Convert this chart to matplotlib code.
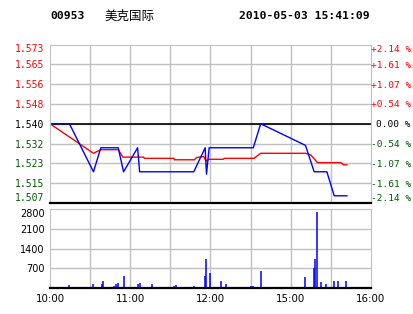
import numpy as np
import matplotlib
matplotlib.use('Agg')
import matplotlib.pyplot as plt

# trading minutes from 10:00 (lunch break squeezed out: 12:30 == 14:30)
price_t = [0, 14.5, 32.5, 38, 51, 55, 65.5, 67, 107.5, 116, 117, 119, 152, 157.5, 191, 197.5, 207, 212.5, 222]
price_v = [1.540, 1.540, 1.520, 1.530, 1.530, 1.520, 1.530, 1.520, 1.520, 1.530, 1.519, 1.530,
           1.530, 1.540, 1.531, 1.520, 1.520, 1.510, 1.510]

avg_t = [0, 32.5, 38, 51, 54.5, 70, 70.5, 92.5, 93, 108, 109.5, 115, 116.5, 119, 129.5, 130.5,
         152.5, 157.5, 191, 195, 200, 217.5, 219.5, 222]
avg_v = [1.5400, 1.5277, 1.5292, 1.5292, 1.5261, 1.5261, 1.5256, 1.5256, 1.5250, 1.5250, 1.5259,
         1.5264, 1.5245, 1.5252, 1.5252, 1.5256, 1.5256, 1.5277, 1.5277, 1.5270, 1.5238, 1.5238,
         1.5229, 1.5229]

vol_t = [14, 32.5, 39, 40, 47.5, 49, 50.5, 55, 65.5, 67, 76.5, 92.5, 94, 107.5, 116, 116.5, 119.5,
         127.5, 131.5, 150, 151.5, 157.5, 190.5, 197.5, 198, 199.5, 202.5, 206.5, 212.5, 215.5, 221.5]
vol_v = [120, 150, 150, 260, 80, 150, 190, 435, 150, 190, 150, 80, 100, 80, 435, 1035, 540,
         260, 150, 80, 80, 610, 400, 715, 1035, 2690, 220, 150, 260, 260, 260]

prev_close = 1.540
price_labels = ['1.507', '1.515', '1.523', '1.532', '1.540', '1.548', '1.556', '1.565', '1.573']
pct_labels = ['-2.14 %', '-1.61 %', '-1.07 %', '-0.54 %', '0.00 %', '+0.54 %', '+1.07 %', '+1.61 %', '+2.14 %']
vol_ticks = [700, 1400, 2100, 2800]
time_ticks = [0, 60, 120, 180, 240]
time_labels = ['10:00', '11:00', '12:00', '15:00', '16:00']

red = '#ff0000'
green = '#005a00'
grid = '#c0c0c0'
mono = 'DejaVu Sans Mono'

fig = plt.figure(figsize=(4.14, 3.14), dpi=100)

ax = fig.add_axes([50/414, 1-203/314, 321/414, 158.5/314])
vax = fig.add_axes([50/414, 1-288.3/314, 321/414, 79.3/314])

half = 0.033
levels = prev_close + np.linspace(-half, half, 9)
ax.set_xlim(0, 240)
ax.set_ylim(prev_close - half, prev_close + half)
for lv in levels[1:-1]:
    ax.axhline(lv, color=grid, lw=1, zorder=0)
ax.axhline(prev_close, color='black', lw=1.2, zorder=1)
ax.axhline(levels[0], color='black', lw=1.6, zorder=3, clip_on=False)
for t in range(30, 240, 30):
    ax.axvline(t, color=grid, lw=1, zorder=0)

ax.plot(avg_t, avg_v, color=red, lw=1, zorder=2)
ax.plot(price_t, price_v, color='#0000ff', lw=1, zorder=2)

for s in ax.spines.values():
    s.set_color(grid)
ax.spines['bottom'].set_visible(False)
ax.set_xticks([])
ax.set_yticks(levels)
ax.set_yticklabels(price_labels, family=mono, fontsize=7.0)
ax.tick_params(axis='y', length=0, pad=4)

rax = ax.twinx()
rax.set_ylim(ax.get_ylim())
rax.set_yticks(levels)
rax.set_yticklabels(pct_labels, family=mono, fontsize=6.8, ha='right')
rax.tick_params(axis='y', length=0, pad=28.8)
for s in rax.spines.values():
    s.set_visible(False)

for a in (ax, rax):
    labs = a.get_yticklabels()
    for i, lab in enumerate(labs):
        lab.set_color(green if i < 4 else ('black' if i == 4 else red))
    labs[0].set_va('bottom')
    labs[-1].set_va('top')

# volume panel
vax.set_xlim(0, 240)
vax.set_ylim(0, 2800)
for v in vol_ticks[:-1]:
    vax.axhline(v, color=grid, lw=1, zorder=0)
for t in range(30, 240, 30):
    vax.axvline(t, color=grid, lw=1, zorder=0)
vax.vlines(vol_t, 0, vol_v, color='#0000ff', lw=1.1, zorder=2)
for s in vax.spines.values():
    s.set_color(grid)
vax.spines['bottom'].set_color('black')
vax.spines['bottom'].set_linewidth(1.6)
vax.set_yticks(vol_ticks)
vax.set_yticklabels([str(v) for v in vol_ticks], fontsize=7.0)
vax.get_yticklabels()[-1].set_va('top')
vax.set_xticks(time_ticks)
vax.set_xticklabels(time_labels, fontsize=7.4)
vax.tick_params(length=0, pad=4)
vax.tick_params(axis='x', pad=4)

# header
fig.text(50/414, 1-16/314, '00953', family=mono, weight='bold', fontsize=8.2, va='center')
fig.text(104/414, 1-16/314, '美克国际', family=['Noto Sans CJK SC', 'DejaVu Sans'],
         fontsize=9, va='center')
fig.text(370/414, 1-16/314, '2010-05-03 15:41:09', family=mono, weight='bold',
         fontsize=8.2, va='center', ha='right')

fig.savefig('out.png', dpi=100)
